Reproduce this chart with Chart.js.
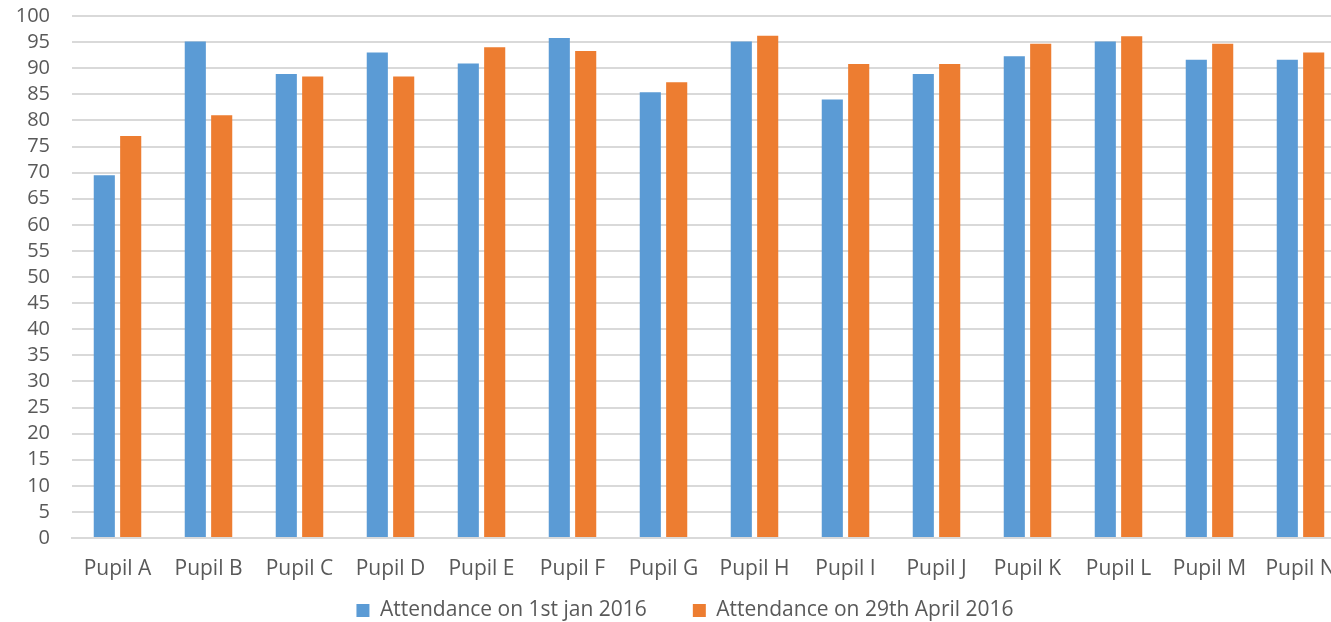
<!DOCTYPE html>
<html>
<head>
<meta charset="utf-8">
<script src="https://cdn.jsdelivr.net/npm/chart.js@4"></script>
<style>
  html, body { margin: 0; padding: 0; background: #fff; overflow: hidden; }
  #wrap { width: 1346px; height: 622px; position: relative; }
</style>
</head>
<body>
<div id="wrap"><canvas id="c"></canvas></div>
<script>
const pupils = ["Pupil A", "Pupil B", "Pupil C", "Pupil D", "Pupil E", "Pupil F", "Pupil G",
                "Pupil H", "Pupil I", "Pupil J", "Pupil K", "Pupil L", "Pupil M", "Pupil N"];
const attendanceJan = [69.5, 95.1, 88.9, 93.0, 90.9, 95.8, 85.4, 95.1, 84.0, 88.9, 92.3, 95.1, 91.6, 91.6];
const attendanceApr = [77.0, 81.0, 88.4, 88.4, 94.0, 93.3, 87.3, 96.2, 90.8, 90.8, 94.7, 96.1, 94.7, 93.0];
const seriesNames = ["Attendance on 1st jan 2016", "Attendance on 29th April 2016"];

const textColor = "#595959";
const gridColor = "#d9d9d9";
const fontFamily = "'Open Sans', 'Noto Sans', sans-serif";

// Nudges the bottom legend: a little right and up, closer to the axis labels.
const legendOffset = {
  id: "legendOffset",
  afterLayout(chart) {
    const lg = chart.legend;
    if (!lg) return;
    const dx = 12, dy = -27;
    lg.left += dx; lg.right += dx;
    lg.top += dy; lg.bottom += dy;
  }
};

new Chart(document.getElementById("c"), {
  type: "bar",
  data: {
    labels: pupils,
    datasets: [
      { label: seriesNames[0], data: attendanceJan, backgroundColor: "#5b9bd5",
        categoryPercentage: 0.58, barPercentage: 0.8 },
      { label: seriesNames[1], data: attendanceApr, backgroundColor: "#ed7d31",
        categoryPercentage: 0.58, barPercentage: 0.8 }
    ]
  },
  plugins: [legendOffset],
  options: {
    responsive: true,
    maintainAspectRatio: false,
    animation: false,
    layout: { padding: { top: 0, left: 0, right: 0, bottom: -36 } },
    plugins: {
      tooltip: { enabled: false },
      legend: {
        position: "bottom",
        labels: {
          color: textColor,
          font: { family: fontFamily, size: 21 },
          boxWidth: 13, boxHeight: 13, padding: 46
        }
      }
    },
    scales: {
      x: {
        grid: { display: false },
        border: { display: true, color: gridColor, width: 2 },
        ticks: { color: textColor, font: { family: fontFamily, size: 21 }, padding: 10,
                 maxRotation: 0, autoSkip: false },
        afterFit: (scale) => { scale.height = 43; }
      },
      y: {
        min: 0, max: 100,
        grid: { color: gridColor, lineWidth: 2, drawTicks: true, tickLength: 18, tickColor: "rgba(0,0,0,0)" },
        border: { display: false },
        ticks: { stepSize: 5, maxTicksLimit: 25, autoSkip: false, color: textColor,
                 font: { family: fontFamily, size: 20 }, padding: 4 },
        afterFit: (scale) => { scale.width = 72; }
      }
    }
  }
});
</script>
</body>
</html>
